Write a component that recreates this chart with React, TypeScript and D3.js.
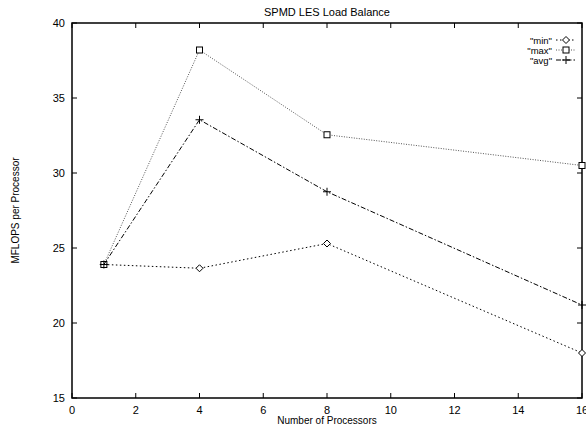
import * as d3 from "d3";
import { useRef, useEffect } from "react";

const procs = [1, 4, 8, 16];
const minVals = [23.9, 23.65, 25.3, 18.0];
const maxVals = [23.9, 38.2, 32.55, 30.5];
const avgVals = [23.9, 33.55, 28.75, 21.2];
const xTicks = [0, 2, 4, 6, 8, 10, 12, 14, 16];
const yTicks = [15, 20, 25, 30, 35, 40];

const width = 586;
const height = 429;
const marginLeft = 72;
const marginRight = 4;
const marginTop = 23;
const marginBottom = 31;
const font = "'Liberation Sans', Arial, sans-serif";

export default function App() {
    const svgRef = useRef<SVGSVGElement>(null);

    useEffect(() => {
        const svg = d3.select(svgRef.current);
        svg.selectAll("*").remove();

        const x = d3.scaleLinear([0, 16], [marginLeft, width - marginRight]);
        const y = d3.scaleLinear([15, 40], [height - marginBottom, marginTop]);

        // title
        svg.append("text")
            .attr("x", 327).attr("y", 16)
            .attr("text-anchor", "middle")
            .attr("font-family", font).attr("font-size", 11)
            .text("SPMD LES Load Balance");

        // ticks + frame
        const g = svg.append("g").attr("stroke", "black").attr("stroke-width", 1);
        xTicks.forEach((t) => {
            g.append("line").attr("x1", x(t)).attr("x2", x(t)).attr("y1", y(15)).attr("y2", y(15) - 5);
            g.append("line").attr("x1", x(t)).attr("x2", x(t)).attr("y1", y(40)).attr("y2", y(40) + 5);
        });
        yTicks.forEach((t) => {
            g.append("line").attr("x1", x(0)).attr("x2", x(0) + 5).attr("y1", y(t)).attr("y2", y(t));
            g.append("line").attr("x1", x(16)).attr("x2", x(16) - 5).attr("y1", y(t)).attr("y2", y(t));
        });
        svg.append("rect")
            .attr("x", x(0)).attr("y", y(40))
            .attr("width", x(16) - x(0)).attr("height", y(15) - y(40))
            .attr("fill", "none").attr("stroke", "black").attr("stroke-width", 1.5);

        // tick labels
        svg.append("g").selectAll("text").data(xTicks).join("text")
            .attr("x", (d) => x(d)).attr("y", y(15) + 16)
            .attr("text-anchor", "middle")
            .attr("font-family", font).attr("font-size", 11)
            .text((d) => d);
        svg.append("g").selectAll("text").data(yTicks).join("text")
            .attr("x", x(0) - 7).attr("y", (d) => y(d) + 4)
            .attr("text-anchor", "end")
            .attr("font-family", font).attr("font-size", 11)
            .text((d) => d);

        // axis labels
        svg.append("text")
            .attr("x", 327).attr("y", 424)
            .attr("text-anchor", "middle")
            .attr("font-family", font).attr("font-size", 10)
            .text("Number of Processors");
        svg.append("text")
            .attr("transform", `translate(19,${(y(15) + y(40)) / 2}) rotate(-90)`)
            .attr("text-anchor", "middle")
            .attr("font-family", font).attr("font-size", 10)
            .text("MFLOPS per Processor");

        const series = [
            { name: "min", vals: minVals, dash: "1.5,2.5", color: "#000", marker: "diamond" },
            { name: "max", vals: maxVals, dash: "1,1.5", color: "#555", marker: "square" },
            { name: "avg", vals: avgVals, dash: "5,2,1.5,2", color: "#000", marker: "plus" },
        ];

        const line = d3.line<number>((d, i) => x(procs[i]), (d) => y(d));

        const drawMarker = (sel: any, kind: string, cx: number, cy: number) => {
            if (kind === "diamond") {
                sel.append("path")
                    .attr("d", `M${cx},${cy - 3.5}L${cx + 3.5},${cy}L${cx},${cy + 3.5}L${cx - 3.5},${cy}Z`)
                    .attr("fill", "white").attr("stroke", "black").attr("stroke-width", 1);
            } else if (kind === "square") {
                sel.append("rect")
                    .attr("x", cx - 3).attr("y", cy - 3).attr("width", 6).attr("height", 6)
                    .attr("fill", "white").attr("stroke", "black").attr("stroke-width", 1);
            } else {
                sel.append("path")
                    .attr("d", `M${cx - 4},${cy}H${cx + 4}M${cx},${cy - 4}V${cy + 4}`)
                    .attr("stroke", "black").attr("stroke-width", 1);
            }
        };

        series.forEach((s, k) => {
            svg.append("path")
                .attr("d", line(s.vals))
                .attr("fill", "none").attr("stroke", s.color)
                .attr("stroke-width", 1).attr("stroke-dasharray", s.dash);
            const mg = svg.append("g");
            s.vals.forEach((v, i) => drawMarker(mg, s.marker, x(procs[i]), y(v)));

            // legend
            const ly = 40 + k * 10;
            svg.append("text")
                .attr("x", 552).attr("y", ly + 3.5)
                .attr("text-anchor", "end")
                .attr("font-family", font).attr("font-size", 9.5)
                .text(`"${s.name}"`);
            svg.append("line")
                .attr("x1", 556).attr("x2", 576).attr("y1", ly).attr("y2", ly)
                .attr("stroke", s.color).attr("stroke-width", 1).attr("stroke-dasharray", s.dash);
            drawMarker(svg, s.marker, 566, ly);
        });
    }, []);

    return (
        <svg
            ref={svgRef}
            width={width}
            height={height}
            style={{ position: "absolute", left: 0, top: 0, background: "white" }}
        />
    );
}
